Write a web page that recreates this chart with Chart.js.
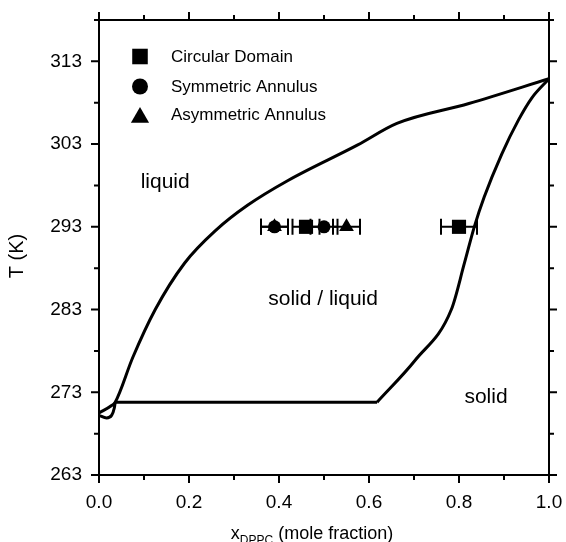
<!DOCTYPE html>
<html>
<head>
<meta charset="utf-8">
<script src="https://cdn.jsdelivr.net/npm/chart.js@4.4.1/dist/chart.umd.min.js"></script>
<style>
  html, body { margin: 0; padding: 0; background: #fff; }
</style>
</head>
<body>
<canvas id="myChart" width="566" height="542"></canvas>
<script>
// phase boundaries (x = mole fraction, T in K)
const liquidusX = [0, 0.028, 0.036, 0.075, 0.125, 0.19, 0.26, 0.33, 0.42, 0.575, 0.662, 0.822, 1.0];
const liquidusT = [270.5, 271.4, 271.8, 277.2, 283.0, 288.6, 292.6, 295.6, 298.6, 302.9, 305.5, 307.9, 310.9];

const solidusX = [0.618, 0.703, 0.783, 0.812, 0.834, 0.856, 0.895, 0.932, 0.962, 1.0];
const solidusT = [271.8, 276.9, 283.0, 288.6, 293.0, 296.6, 301.8, 305.9, 308.6, 310.9];

const eutecticX = [0.036, 0.618];
const eutecticT = [271.8, 271.8];

const loopX = [0, 0.017, 0.028, 0.034, 0.036];
const loopT = [270.2, 269.9, 270.2, 271.1, 271.8];

// measured domains at 293 K
const seriesNames = ['Circular Domain', 'Symmetric Annulus', 'Asymmetric Annulus'];
const measuredT = 293;
const squareX = [0.46, 0.80];
const squareErr = [0.03, 0.04];
const circleX = [0.39, 0.50];
const circleErr = [0.03, 0.03];
const triangleX = [0.39, 0.55];
const triangleErr = [0.03, 0.03];

// axes
const xTicks = [0, 0.2, 0.4, 0.6, 0.8, 1.0];
const yTicks = [263, 273, 283, 293, 303, 313];

// region labels
const regionText = ['liquid', 'solid / liquid', 'solid'];
const regionX = [0.147, 0.498, 0.86];
const regionT = [297.7, 283.5, 271.7];

const FONT = '"Liberation Sans", Arial, sans-serif';
Chart.defaults.font.family = FONT;
Chart.defaults.color = '#000';

const toPts = (xs, ys) => xs.map((x, i) => ({ x: x, y: ys[i] }));

const curve = (xs, ys) => ({
  type: 'line',
  data: toPts(xs, ys),
  borderColor: '#000',
  borderWidth: 3,
  pointRadius: 0,
  cubicInterpolationMode: 'monotone',
  fill: false
});

const markers = (label, xs, errs, style, r, legendR) => ({
  type: 'scatter',
  label: label,
  data: xs.map(x => ({ x: x, y: measuredT })),
  pointStyle: style,
  pointRadius: r,
  backgroundColor: '#000',
  borderColor: '#000',
  borderWidth: 0,
  xErr: errs,
  legendR: legendR
});

const errorBars = {
  id: 'errorBars',
  beforeDatasetsDraw(chart) {
    const ctx = chart.ctx, xs = chart.scales.x, ys = chart.scales.y;
    ctx.save();
    ctx.strokeStyle = '#000';
    ctx.lineWidth = 2;
    chart.data.datasets.forEach(ds => {
      if (!ds.xErr) return;
      ds.data.forEach((p, i) => {
        const x1 = xs.getPixelForValue(p.x - ds.xErr[i]);
        const x2 = xs.getPixelForValue(p.x + ds.xErr[i]);
        const y = ys.getPixelForValue(p.y);
        ctx.beginPath();
        ctx.moveTo(x1, y); ctx.lineTo(x2, y);
        ctx.moveTo(x1, y - 8); ctx.lineTo(x1, y + 8);
        ctx.moveTo(x2, y - 8); ctx.lineTo(x2, y + 8);
        ctx.stroke();
      });
    });
    ctx.restore();
  }
};

const regionLabels = {
  id: 'regionLabels',
  afterDatasetsDraw(chart) {
    const ctx = chart.ctx, xs = chart.scales.x, ys = chart.scales.y;
    ctx.save();
    ctx.fillStyle = '#000';
    ctx.font = '21px ' + FONT;
    ctx.textAlign = 'center';
    ctx.textBaseline = 'alphabetic';
    regionText.forEach((t, i) => {
      ctx.fillText(t, xs.getPixelForValue(regionX[i]), ys.getPixelForValue(regionT[i]));
    });
    ctx.restore();
  }
};

const frameAndTicks = {
  id: 'frameAndTicks',
  afterDraw(chart) {
    const ctx = chart.ctx, a = chart.chartArea;
    const xs = chart.scales.x, ys = chart.scales.y;
    ctx.save();
    ctx.strokeStyle = '#000';
    ctx.lineWidth = 2;
    ctx.strokeRect(a.left, a.top, a.right - a.left, a.bottom - a.top);
    ctx.beginPath();
    for (let i = 0; i <= 10; i++) {
      const px = xs.getPixelForValue(i / 10);
      const len = i % 2 === 0 ? 8 : 5;
      ctx.moveTo(px, a.bottom); ctx.lineTo(px, a.bottom + len);
      ctx.moveTo(px, a.top); ctx.lineTo(px, a.top - len);
    }
    for (let t = 263; t <= 318; t += 5) {
      const py = ys.getPixelForValue(t);
      const len = (t - 263) % 10 === 0 ? 8 : 5;
      ctx.moveTo(a.left, py); ctx.lineTo(a.left - len, py);
      ctx.moveTo(a.right, py); ctx.lineTo(a.right + len, py);
    }
    ctx.stroke();
    ctx.restore();
  }
};

const insideLegend = {
  id: 'insideLegend',
  afterDraw(chart) {
    const ctx = chart.ctx, a = chart.chartArea;
    const rows = [56.5, 86.5, 114.5];
    const markerDy = [0, 0, 3];
    ctx.save();
    ctx.font = '17px ' + FONT;
    ctx.textAlign = 'left';
    ctx.textBaseline = 'middle';
    ctx.fillStyle = '#000';
    ctx.strokeStyle = '#000';
    chart.data.datasets.filter(ds => ds.label).forEach((ds, i) => {
      Chart.helpers.drawPoint(ctx, { pointStyle: ds.pointStyle, radius: ds.legendR, rotation: 0, borderWidth: 0 },
        a.left + 41, rows[i] + markerDy[i]);
      ctx.fillText(ds.label, a.left + 72, rows[i] + 1);
    });
    ctx.restore();
  }
};

const axisTitles = {
  id: 'axisTitles',
  afterDraw(chart) {
    const ctx = chart.ctx, a = chart.chartArea;
    ctx.save();
    ctx.fillStyle = '#000';
    // y title
    ctx.font = '20px ' + FONT;
    ctx.textAlign = 'center';
    ctx.textBaseline = 'middle';
    ctx.translate(17, 256);
    ctx.rotate(-Math.PI / 2);
    ctx.fillText('T (K)', 0, 0);
    ctx.setTransform(1, 0, 0, 1, 0, 0);
    // x title with subscript
    ctx.textAlign = 'left';
    ctx.textBaseline = 'alphabetic';
    const big = '18px ' + FONT, small = '12px ' + FONT;
    ctx.font = big;
    const w1 = ctx.measureText('x').width;
    const w3 = ctx.measureText(' (mole fraction)').width;
    ctx.font = small;
    const w2 = ctx.measureText('DPPC').width;
    let x = (a.left + a.right) / 2 - 12 - (w1 + w2 + w3) / 2;
    const base = 539;
    ctx.font = big;
    ctx.fillText('x', x, base);
    x += w1;
    ctx.font = small;
    ctx.fillText('DPPC', x, base + 5);
    x += w2;
    ctx.font = big;
    ctx.fillText(' (mole fraction)', x, base);
    ctx.restore();
  }
};

const ctx = document.getElementById('myChart');

const myChart = new Chart(ctx, {
  type: 'scatter',
  data: {
    datasets: [
      markers(seriesNames[0], squareX, squareErr, 'rect', 10, 11),
      markers(seriesNames[1], circleX, circleErr, 'circle', 6.5, 8),
      markers(seriesNames[2], triangleX, triangleErr, 'triangle', 8.5, 10.5),
      curve(liquidusX, liquidusT),
      curve(solidusX, solidusT),
      Object.assign(curve(eutecticX, eutecticT), { cubicInterpolationMode: 'default', tension: 0 }),
      curve(loopX, loopT)
    ]
  },
  options: {
    responsive: false,
    animation: false,
    events: [],
    layout: { padding: { left: 0, right: 17, top: 20, bottom: 0 } },
    plugins: {
      legend: { display: false },
      tooltip: { enabled: false }
    },
    scales: {
      x: {
        type: 'linear',
        min: 0,
        max: 1,
        grid: { display: false, drawTicks: false },
        border: { display: false },
        afterBuildTicks: s => { s.ticks = xTicks.map(v => ({ value: v })); },
        afterFit: s => { s.height = 67; s.paddingLeft = 0; s.paddingRight = 0; },
        ticks: {
          padding: 16,
          maxRotation: 0,
          font: { size: 19 },
          callback: v => v.toFixed(1)
        }
      },
      y: {
        type: 'linear',
        min: 263,
        max: 318,
        grid: { display: false, drawTicks: false },
        border: { display: false },
        afterBuildTicks: s => { s.ticks = yTicks.map(v => ({ value: v })); },
        afterFit: s => { s.width = 99; s.paddingTop = 0; s.paddingBottom = 0; },
        ticks: {
          padding: 17,
          font: { size: 19 },
          callback: v => String(v)
        }
      }
    }
  },
  plugins: [errorBars, regionLabels, frameAndTicks, insideLegend, axisTitles]
});
</script>
</body>
</html>
